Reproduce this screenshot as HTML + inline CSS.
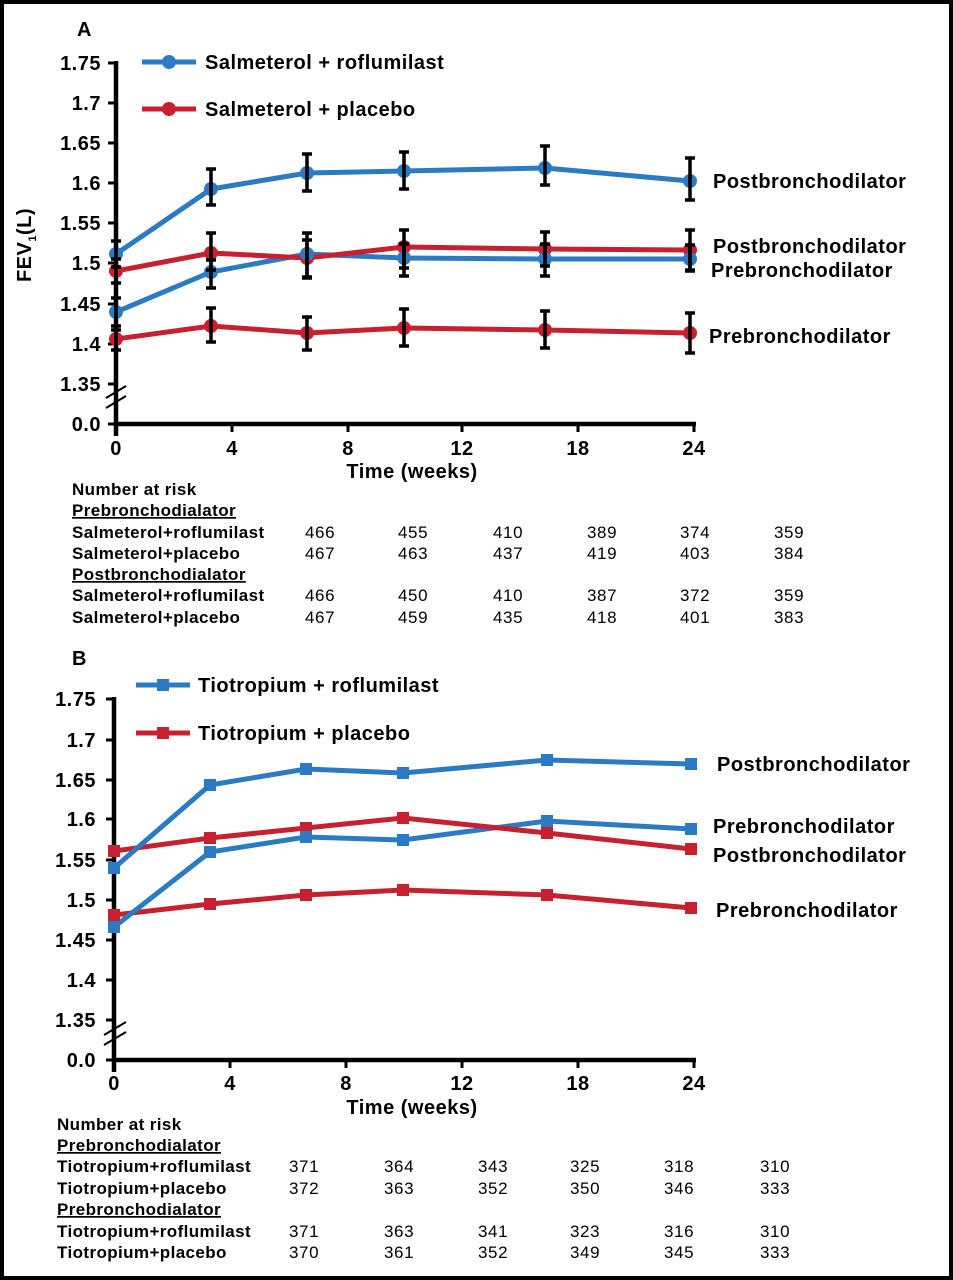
<!DOCTYPE html>
<html><head><meta charset="utf-8"><style>
html,body{margin:0;padding:0;background:#fff}
svg{display:block}
text{font-family:"Liberation Sans",Arial,sans-serif;fill:#000}
.t{font-size:20px;font-weight:bold}
.lab{font-size:20px;font-weight:bold;letter-spacing:0.5px}
.tb{font-size:17px;letter-spacing:0.6px}
.tbb{font-size:17px;font-weight:bold;letter-spacing:0.4px}
.b{stroke:#2a7bc4;stroke-width:5;fill:none}
.r{stroke:#c8202f;stroke-width:5;fill:none}
.e{stroke:#000;stroke-width:3.5}
</style></head><body>
<svg width="953" height="1280" xmlns="http://www.w3.org/2000/svg">
<rect x="2" y="2" width="949" height="1276" fill="#fff" stroke="#000" stroke-width="4"/>
<!-- Panel A -->
<text x="77" y="36" class="t">A</text>
<g stroke="#000" stroke-width="4.5" fill="none">
<line x1="116" y1="61" x2="116" y2="436"/>
<line x1="114" y1="424" x2="696" y2="424"/>
</g>
<g stroke="#000" stroke-width="3">
<line x1="108" y1="63" x2="116" y2="63"/><line x1="108" y1="103" x2="116" y2="103"/><line x1="108" y1="143" x2="116" y2="143"/><line x1="108" y1="183" x2="116" y2="183"/><line x1="108" y1="223" x2="116" y2="223"/><line x1="108" y1="263" x2="116" y2="263"/><line x1="108" y1="304" x2="116" y2="304"/><line x1="108" y1="344" x2="116" y2="344"/><line x1="108" y1="384" x2="116" y2="384"/><line x1="108" y1="424" x2="116" y2="424"/>
<line x1="232" y1="424" x2="232" y2="432"/><line x1="348" y1="424" x2="348" y2="432"/><line x1="462" y1="424" x2="462" y2="432"/><line x1="578" y1="424" x2="578" y2="432"/><line x1="694" y1="424" x2="694" y2="432"/>
<line x1="106" y1="398" x2="126" y2="386" stroke-width="2"/><line x1="106" y1="408" x2="126" y2="396" stroke-width="2"/>
</g>
<g class="lab" text-anchor="end">
<text x="101" y="70">1.75</text><text x="101" y="110">1.7</text><text x="101" y="150">1.65</text><text x="101" y="190">1.6</text><text x="101" y="230">1.55</text><text x="101" y="270">1.5</text><text x="101" y="311">1.45</text><text x="101" y="351">1.4</text><text x="101" y="391">1.35</text><text x="101" y="431">0.0</text>
</g>
<g class="lab" text-anchor="middle">
<text x="116" y="455">0</text><text x="232" y="455">4</text><text x="348" y="455">8</text><text x="462" y="455">12</text><text x="578" y="455">18</text><text x="694" y="455">24</text>
<text x="412" y="478">Time (weeks)</text>
</g>
<text transform="translate(31,245) rotate(-90)" class="lab" text-anchor="middle" font-weight="normal">FEV<tspan font-size="11" dy="5">1</tspan><tspan dy="-5">(L)</tspan></text>
<line x1="142" y1="62" x2="196" y2="62" class="b"/><circle cx="169" cy="62" r="7" fill="#2a7bc4"/>
<text x="205" y="69" class="lab">Salmeterol + roflumilast</text>
<line x1="142" y1="109" x2="196" y2="109" class="r"/><circle cx="169" cy="109" r="7" fill="#c8202f"/>
<text x="205" y="116" class="lab">Salmeterol + placebo</text>
<polyline class="r" points="116,339 211,326 307,333 404,328 545,330 690,333"/>
<polyline class="b" points="116,312 211,272 307,254 404,258 545,259 690,259"/>
<polyline class="r" points="116,271 211,253 307,258 404,247 545,249 690,250"/>
<polyline class="b" points="116,254 211,189 307,173 404,171 545,168 690,181"/>
<g fill="#c8202f"><circle cx="116" cy="339" r="7"/><circle cx="211" cy="326" r="7"/><circle cx="307" cy="333" r="7"/><circle cx="404" cy="328" r="7"/><circle cx="545" cy="330" r="7"/><circle cx="690" cy="333" r="7"/>
<circle cx="116" cy="271" r="7"/><circle cx="211" cy="253" r="7"/><circle cx="307" cy="258" r="7"/><circle cx="404" cy="247" r="7"/><circle cx="545" cy="249" r="7"/><circle cx="690" cy="250" r="7"/></g>
<g fill="#2a7bc4"><circle cx="116" cy="312" r="7"/><circle cx="211" cy="272" r="7"/><circle cx="307" cy="254" r="7"/><circle cx="404" cy="258" r="7"/><circle cx="545" cy="259" r="7"/><circle cx="690" cy="259" r="7"/>
<circle cx="116" cy="254" r="7"/><circle cx="211" cy="189" r="7"/><circle cx="307" cy="173" r="7"/><circle cx="404" cy="171" r="7"/><circle cx="545" cy="168" r="7"/><circle cx="690" cy="181" r="7"/></g>
<g class="e">
<path d="M116,241V267M111,241H121M111,267H121 M211,169V205M206,169H216M206,205H216 M307,154V191M302,154H312M302,191H312 M404,152V189M399,152H409M399,189H409 M545,146V185M540,146H550M540,185H550 M690,158V200M685,158H695M685,200H695"/>
<path d="M116,298V326M111,298H121M111,326H121 M211,260V288M206,260H216M206,288H216 M307,240V278M302,240H312M302,278H312 M404,244V276M399,244H409M399,276H409 M545,244V276M540,244H550M540,276H550 M690,245V271M685,245H695M685,271H695"/>
<path d="M116,259V283M111,259H121M111,283H121 M211,233V270M206,233H216M206,270H216 M307,233V277M302,233H312M302,277H312 M404,230V268M399,230H409M399,268H409 M545,232V266M540,232H550M540,266H550 M690,230V270M685,230H695M685,270H695"/>
<path d="M116,330V350M111,330H121M111,350H121 M211,308V342M206,308H216M206,342H216 M307,317V350M302,317H312M302,350H312 M404,309V346M399,309H409M399,346H409 M545,311V348M540,311H550M540,348H550 M690,313V353M685,313H695M685,353H695"/>
</g>
<g class="lab"><text x="713" y="188">Postbronchodilator</text><text x="713" y="253">Postbronchodilator</text><text x="711" y="277">Prebronchodilator</text><text x="709" y="343">Prebronchodilator</text></g>
<g class="tbb">
<text x="72" y="495">Number at risk</text>
<text x="72" y="516" text-decoration="underline">Prebronchodialator</text>
<text x="72" y="538">Salmeterol+roflumilast</text>
<text x="72" y="559">Salmeterol+placebo</text>
<text x="72" y="580" text-decoration="underline">Postbronchodialator</text>
<text x="72" y="601">Salmeterol+roflumilast</text>
<text x="72" y="623">Salmeterol+placebo</text>
</g>
<g class="tb">
<text x="305" y="538">466</text><text x="398" y="538">455</text><text x="493" y="538">410</text><text x="587" y="538">389</text><text x="680" y="538">374</text><text x="774" y="538">359</text>
<text x="305" y="559">467</text><text x="398" y="559">463</text><text x="493" y="559">437</text><text x="587" y="559">419</text><text x="680" y="559">403</text><text x="774" y="559">384</text>
<text x="305" y="601">466</text><text x="398" y="601">450</text><text x="493" y="601">410</text><text x="587" y="601">387</text><text x="680" y="601">372</text><text x="774" y="601">359</text>
<text x="305" y="623">467</text><text x="398" y="623">459</text><text x="493" y="623">435</text><text x="587" y="623">418</text><text x="680" y="623">401</text><text x="774" y="623">383</text>
</g>
<!-- Panel B -->
<text x="72" y="665" class="t">B</text>
<g stroke="#000" stroke-width="4.5" fill="none">
<line x1="114" y1="697" x2="114" y2="1072"/>
<line x1="112" y1="1060" x2="696" y2="1060"/>
</g>
<g stroke="#000" stroke-width="3">
<line x1="106" y1="699" x2="114" y2="699"/><line x1="106" y1="740" x2="114" y2="740"/><line x1="106" y1="780" x2="114" y2="780"/><line x1="106" y1="819" x2="114" y2="819"/><line x1="106" y1="860" x2="114" y2="860"/><line x1="106" y1="900" x2="114" y2="900"/><line x1="106" y1="940" x2="114" y2="940"/><line x1="106" y1="980" x2="114" y2="980"/><line x1="106" y1="1020" x2="114" y2="1020"/><line x1="106" y1="1060" x2="114" y2="1060"/>
<line x1="230" y1="1060" x2="230" y2="1068"/><line x1="346" y1="1060" x2="346" y2="1068"/><line x1="462" y1="1060" x2="462" y2="1068"/><line x1="578" y1="1060" x2="578" y2="1068"/><line x1="694" y1="1060" x2="694" y2="1068"/>
<line x1="104" y1="1035" x2="126" y2="1022" stroke-width="2"/><line x1="104" y1="1045" x2="126" y2="1032" stroke-width="2"/>
</g>
<g class="lab" text-anchor="end">
<text x="96" y="706">1.75</text><text x="96" y="747">1.7</text><text x="96" y="787">1.65</text><text x="96" y="826">1.6</text><text x="96" y="867">1.55</text><text x="96" y="907">1.5</text><text x="96" y="947">1.45</text><text x="96" y="987">1.4</text><text x="96" y="1027">1.35</text><text x="96" y="1067">0.0</text>
</g>
<g class="lab" text-anchor="middle">
<text x="114" y="1090">0</text><text x="230" y="1090">4</text><text x="346" y="1090">8</text><text x="462" y="1090">12</text><text x="578" y="1090">18</text><text x="694" y="1090">24</text>
<text x="412" y="1114">Time (weeks)</text>
</g>
<line x1="136" y1="685" x2="190" y2="685" class="b"/><rect x="157" y="679" width="12" height="12" fill="#2a7bc4"/>
<text x="198" y="692" class="lab">Tiotropium + roflumilast</text>
<line x1="136" y1="733" x2="190" y2="733" class="r"/><rect x="157" y="727" width="12" height="12" fill="#c8202f"/>
<text x="198" y="740" class="lab">Tiotropium + placebo</text>
<polyline class="r" points="114,915 210,904 306,895 403,890 547,895 691,908"/>
<polyline class="b" points="114,927 210,852 306,837 403,840 547,821 691,829"/>
<polyline class="r" points="114,851 210,838 306,828 403,818 547,833 691,849"/>
<polyline class="b" points="114,868 210,785 306,769 403,773 547,760 691,764"/>
<g fill="#c8202f">
<rect x="108" y="909" width="12" height="12"/><rect x="204" y="898" width="12" height="12"/><rect x="300" y="889" width="12" height="12"/><rect x="397" y="884" width="12" height="12"/><rect x="541" y="889" width="12" height="12"/><rect x="685" y="902" width="12" height="12"/>
<rect x="108" y="845" width="12" height="12"/><rect x="204" y="832" width="12" height="12"/><rect x="300" y="822" width="12" height="12"/><rect x="397" y="812" width="12" height="12"/><rect x="541" y="827" width="12" height="12"/><rect x="685" y="843" width="12" height="12"/>
</g>
<g fill="#2a7bc4">
<rect x="108" y="921" width="12" height="12"/><rect x="204" y="846" width="12" height="12"/><rect x="300" y="831" width="12" height="12"/><rect x="397" y="834" width="12" height="12"/><rect x="541" y="815" width="12" height="12"/><rect x="685" y="823" width="12" height="12"/>
<rect x="108" y="862" width="12" height="12"/><rect x="204" y="779" width="12" height="12"/><rect x="300" y="763" width="12" height="12"/><rect x="397" y="767" width="12" height="12"/><rect x="541" y="754" width="12" height="12"/><rect x="685" y="758" width="12" height="12"/>
</g>
<g class="lab"><text x="717" y="771">Postbronchodilator</text><text x="713" y="833">Prebronchodilator</text><text x="713" y="862">Postbronchodilator</text><text x="716" y="917">Prebronchodilator</text></g>
<g class="tbb">
<text x="57" y="1130">Number at risk</text>
<text x="57" y="1151" text-decoration="underline">Prebronchodialator</text>
<text x="57" y="1172">Tiotropium+roflumilast</text>
<text x="57" y="1194">Tiotropium+placebo</text>
<text x="57" y="1215" text-decoration="underline">Prebronchodialator</text>
<text x="57" y="1237">Tiotropium+roflumilast</text>
<text x="57" y="1258">Tiotropium+placebo</text>
</g>
<g class="tb">
<text x="289" y="1172">371</text><text x="384" y="1172">364</text><text x="478" y="1172">343</text><text x="570" y="1172">325</text><text x="664" y="1172">318</text><text x="760" y="1172">310</text>
<text x="289" y="1194">372</text><text x="384" y="1194">363</text><text x="478" y="1194">352</text><text x="570" y="1194">350</text><text x="664" y="1194">346</text><text x="760" y="1194">333</text>
<text x="289" y="1237">371</text><text x="384" y="1237">363</text><text x="478" y="1237">341</text><text x="570" y="1237">323</text><text x="664" y="1237">316</text><text x="760" y="1237">310</text>
<text x="289" y="1258">370</text><text x="384" y="1258">361</text><text x="478" y="1258">352</text><text x="570" y="1258">349</text><text x="664" y="1258">345</text><text x="760" y="1258">333</text>
</g>
</svg>
</body></html>
